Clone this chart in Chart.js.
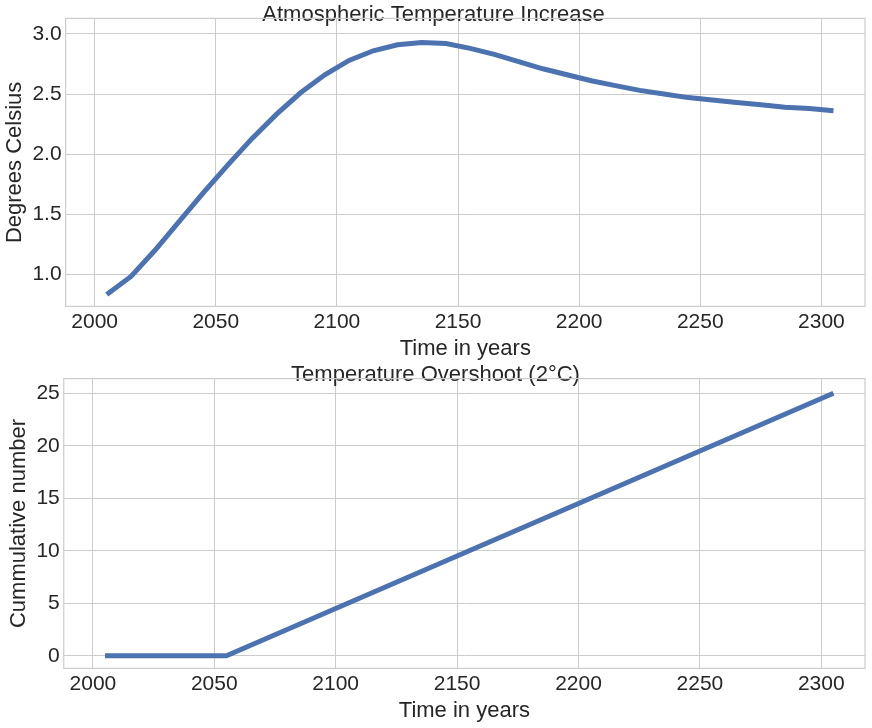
<!DOCTYPE html>
<html><head>
<script src="https://cdn.jsdelivr.net/npm/chart.js@4"></script>
<style>
body{margin:0;background:#fff;}
.box{position:absolute;left:0;width:872px;}
</style></head><body>
<div class="box" style="top:0;height:362px"><canvas id="c1"></canvas></div>
<div class="box" style="top:362px;height:366px"><canvas id="c2"></canvas></div>
<script>
var years = [2005,2015,2025,2035,2045,2055,2065,2075,2085,2095,2105,2115,2125,2135,2145,2155,2165,2175,2185,2195,2205,2215,2225,2235,2245,2255,2265,2275,2285,2295,2305];
var tempIncrease = [0.83,0.98,1.20,1.44,1.68,1.91,2.13,2.33,2.51,2.66,2.78,2.86,2.91,2.93,2.92,2.88,2.83,2.77,2.71,2.66,2.61,2.57,2.53,2.50,2.47,2.45,2.43,2.41,2.39,2.38,2.36];
var overshoot = [0,0,0,0,0,0,1,2,3,4,5,6,7,8,9,10,11,12,13,14,15,16,17,18,19,20,21,22,23,24,25];
var xTicks = [2000,2050,2100,2150,2200,2250,2300];

Chart.defaults.font.family = '"Liberation Sans", Arial, sans-serif';
Chart.defaults.color = '#262626';
Chart.defaults.animation = false;

var frame = {id:'frame', afterDraw:function(ch){
  var a = ch.chartArea, c = ch.ctx;
  c.save(); c.strokeStyle = '#cccccc'; c.lineWidth = 1.2;
  c.strokeRect(a.left, a.top, a.right - a.left, a.bottom - a.top);
  c.restore();
}};

function makeChart(id, title, yLabel, values, ymin, ymax, ystep, pad) {
  return new Chart(document.getElementById(id), {
    type:'line',
    data:{datasets:[{data:years.map(function(y,i){return {x:y, y:values[i]};}), borderColor:'#4c72b0', borderWidth:5, pointRadius:0, tension:0, fill:false}]},
    options:{responsive:true, maintainAspectRatio:false, layout:{padding:pad},
      plugins:{legend:{display:false}, tooltip:{enabled:false},
        title:{display:true, text:title, font:{size:22, weight:'normal'}, color:'#262626', padding:{top:0, bottom:-10}}},
      scales:{
        x:{type:'linear', min:1988, max:2318, afterBuildTicks:function(ax){ax.ticks = xTicks.map(function(v){return {value:v};});},
          grid:{color:'#cccccc', drawTicks:false}, border:{display:false},
          ticks:{font:{size:21}, padding:3, callback:function(v){return String(v);}},
          title:{display:true, text:'Time in years', font:{size:22}, padding:{top:-2, bottom:0}}},
        y:{min:ymin, max:ymax, grid:{color:'#cccccc', drawTicks:false}, border:{display:false},
          afterBuildTicks:function(ax){var t=[];for(var v=Math.ceil(ymin/ystep)*ystep; v<=ymax+1e-9; v+=ystep) t.push({value:+v.toFixed(2)}); ax.ticks=t;},
          ticks:{font:{size:21}, padding:4, callback:function(v){return ystep<1 ? v.toFixed(1) : String(v);}},
          title:{display:true, text:yLabel, font:{size:22}, padding:{top:0, bottom:0}}}
      }},
    plugins:[frame]
  });
}
makeChart('c1','Atmospheric Temperature Increase','Degrees Celsius',tempIncrease,0.73,3.13,0.5,{left:2,right:7,top:2,bottom:0});
makeChart('c2','Temperature Overshoot (2°C)','Cummulative number',overshoot,-1.2,26.4,5,{left:6,right:7,top:0,bottom:4});
</script>
</body></html>
